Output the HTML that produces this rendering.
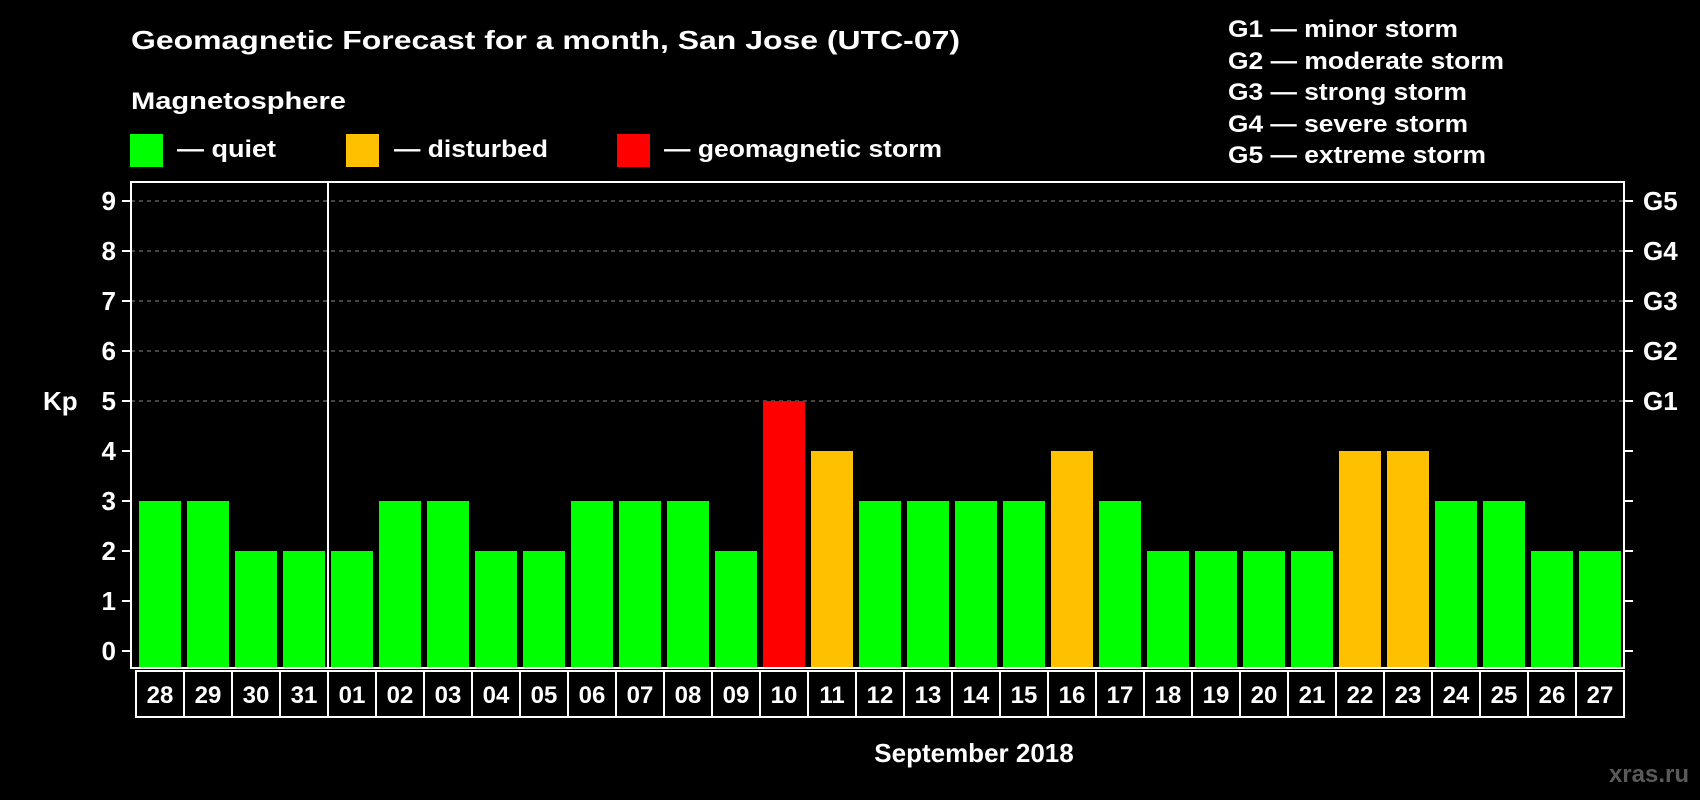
<!DOCTYPE html>
<html><head><meta charset="utf-8"><style>
html,body{margin:0;padding:0;background:#000;width:1700px;height:800px;overflow:hidden}
svg{display:block}
text{font-family:"Liberation Sans",Arial,sans-serif;font-weight:bold;fill:#fff}
</style></head><body>
<svg id="chart" width="1700" height="800" viewBox="0 0 1700 800">
<text x="131" y="49" font-size="26" textLength="829" lengthAdjust="spacingAndGlyphs">Geomagnetic Forecast for a month, San Jose (UTC-07)</text>
<text x="131" y="109" font-size="24" textLength="215" lengthAdjust="spacingAndGlyphs">Magnetosphere</text>
<g><rect x="130" y="134" width="33" height="33" fill="#00ff00"/><text x="177" y="157" font-size="24" textLength="99" lengthAdjust="spacingAndGlyphs">— quiet</text></g>
<g><rect x="346" y="134" width="33" height="33" fill="#ffc000"/><text x="394" y="157" font-size="24" textLength="154" lengthAdjust="spacingAndGlyphs">— disturbed</text></g>
<g><rect x="617" y="134" width="33" height="33" fill="#ff0000"/><text x="664" y="157" font-size="24" textLength="278" lengthAdjust="spacingAndGlyphs">— geomagnetic storm</text></g>
<g font-size="24">
<text x="1228" y="37" textLength="230" lengthAdjust="spacingAndGlyphs">G1 — minor storm</text>
<text x="1228" y="69" textLength="276" lengthAdjust="spacingAndGlyphs">G2 — moderate storm</text>
<text x="1228" y="100" textLength="239" lengthAdjust="spacingAndGlyphs">G3 — strong storm</text>
<text x="1228" y="132" textLength="240" lengthAdjust="spacingAndGlyphs">G4 — severe storm</text>
<text x="1228" y="163" textLength="258" lengthAdjust="spacingAndGlyphs">G5 — extreme storm</text>
</g>
<text x="43" y="410" font-size="26">Kp</text>
<text x="974" y="762" font-size="26" text-anchor="middle">September 2018</text>
<text x="1689" y="782" font-size="24" text-anchor="end" style="fill:#5a5a5a">xras.ru</text>
<g id="grid"></g><g id="bars"></g><g id="axes"></g>
</svg>
<script>
const days = ["28","29","30","31","01","02","03","04","05","06","07","08","09","10","11","12","13","14","15","16","17","18","19","20","21","22","23","24","25","26","27"];
const kp = [3,3,2,2,2,3,3,2,2,3,3,3,2,5,4,3,3,3,3,4,3,2,2,2,2,4,4,3,3,2,2];
const yTicks = [0,1,2,3,4,5,6,7,8,9];
const gLabels = ["G1","G2","G3","G4","G5"];
const gLevels = [5,6,7,8,9];

const NS="http://www.w3.org/2000/svg";
const L=131,R=1624,T=182,B=668;
const y=v=>651-v*50;
const x=i=>139+i*48;
function mk(tag,attrs,parent){const e=document.createElementNS(NS,tag);for(const k in attrs)e.setAttribute(k,attrs[k]);parent.appendChild(e);return e;}
const grid=document.getElementById('grid'),bars=document.getElementById('bars'),axes=document.getElementById('axes');
yTicks.forEach(v=>{
  if(v>=5){const g=mk('line',{x1:L,x2:R,y1:y(v),y2:y(v),stroke:'#888','stroke-dasharray':'4,4','stroke-width':1},grid);
  
  }
  const t=mk('line',{x1:L-9,x2:L,y1:y(v),y2:y(v),stroke:'#fff','stroke-width':2},axes);
  
  
  const t2=mk('line',{x1:R,x2:R+9,y1:y(v),y2:y(v),stroke:'#fff','stroke-width':2},axes);
  
  
  const lb=mk('text',{x:116,y:y(v)+9,'font-size':26,'text-anchor':'end'},axes);lb.textContent=v;
  
  
});
gLabels.forEach((g,i)=>{
  const lb=mk('text',{x:1643,y:y(gLevels[i])+9,'font-size':26},axes);lb.textContent=g;
  
  
});
kp.forEach((v,i)=>{
  const c=v>=5?'#ff0000':(v>=4?'#ffc000':'#00ff00');
  const r=mk('rect',{x:x(i),y:y(v),width:42,height:B-y(v),fill:c},bars);
  
  
  const bx=mk('rect',{x:x(i)-3,y:671,width:48,height:46,fill:'none',stroke:'#fff','stroke-width':2},axes);
  
  
  const t=mk('text',{x:x(i)+21,y:703,'font-size':24,'text-anchor':'middle'},axes);t.textContent=days[i];
  
  
});
const f=mk('rect',{x:L,y:T,width:R-L,height:B-T,fill:'none',stroke:'#fff','stroke-width':2},axes);


const sep=mk('line',{x1:x(4)-3,x2:x(4)-3,y1:T,y2:B,stroke:'#fff','stroke-width':2},axes);


</script>
</body></html>
